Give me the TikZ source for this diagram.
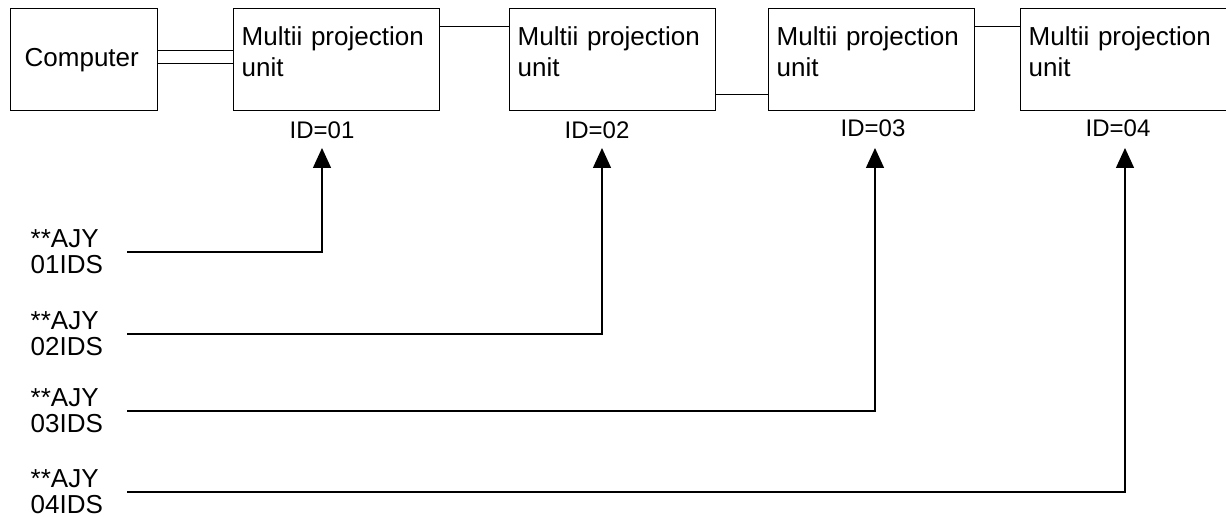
\documentclass[tikz,border=0pt]{standalone}
\usepackage{fontspec}
\setmainfont{Liberation Sans}
\usetikzlibrary{arrows.meta}

\begin{document}
\begin{tikzpicture}[x=0.5pt,y=-0.5pt,line width=0.7pt,
  unitbox/.style={draw, anchor=north west, align=left, text width=95pt, inner xsep=4pt, inner ysep=9pt, text height=9.5pt, text depth=23.5pt, font=\fontsize{13}{15.5}\selectfont},
  pcbox/.style={draw, anchor=north west, align=left, text width=59.5pt, inner xsep=7pt, minimum height=51pt, font=\fontsize{13}{15.5}\selectfont},
  idtag/.style={font=\fontsize{12}{14}\selectfont, inner sep=1pt},
  cmd/.style={anchor=west, align=left, text width=47pt, inner sep=1pt, font=\fontsize{13}{13}\selectfont},
  pointer/.style={-{Triangle[length=10pt,width=9pt]}}]
\useasboundingbox (0,0) rectangle (1226,517);
% boxes
\node[pcbox] (comp) at (10,8) {Computer};
\node[unitbox] (u1) at (233,8) {Multii projection\\unit};
\node[unitbox] (u2) at (509,8) {Multii projection\\unit};
\node[unitbox] (u3) at (768,8) {Multii projection\\unit};
\node[unitbox] (u4) at (1020,8) {Multii projection\\unit};
% cables
\draw ([yshift=4.5pt]comp.east) -- ([yshift=4.5pt]u1.west);
\draw ([yshift=-2pt]comp.east) -- ([yshift=-2pt]u1.west);
\draw ([yshift=16.5pt]u1.east) -- ([yshift=16.5pt]u2.west);
\draw ([yshift=-17.5pt]u2.east) -- ([yshift=-17.5pt]u3.west);
\draw ([yshift=16.5pt]u3.east) -- ([yshift=16.5pt]u4.west);
% ids
\node[idtag] (id1) at (322,130) {ID=01};
\node[idtag] (id2) at (597,130) {ID=02};
\node[idtag] (id3) at (873,128) {ID=03};
\node[idtag] (id4) at (1118,128) {ID=04};
\coordinate (t1) at (322,148);
\coordinate (t2) at (602,148);
\coordinate (t3) at (875,148);
\coordinate (t4) at (1125,148);
% commands
\node[cmd] (c1) at (28,252) {**AJY\\01IDS};
\node[cmd] (c2) at (28,334) {**AJY\\02IDS};
\node[cmd] (c3) at (28,411) {**AJY\\03IDS};
\node[cmd] (c4) at (28,492) {**AJY\\04IDS};
\draw[pointer] (c1.east) -| (t1);
\draw[pointer] (c2.east) -| (t2);
\draw[pointer] (c3.east) -| (t3);
\draw[pointer] (c4.east) -| (t4);
\end{tikzpicture}
\end{document}
